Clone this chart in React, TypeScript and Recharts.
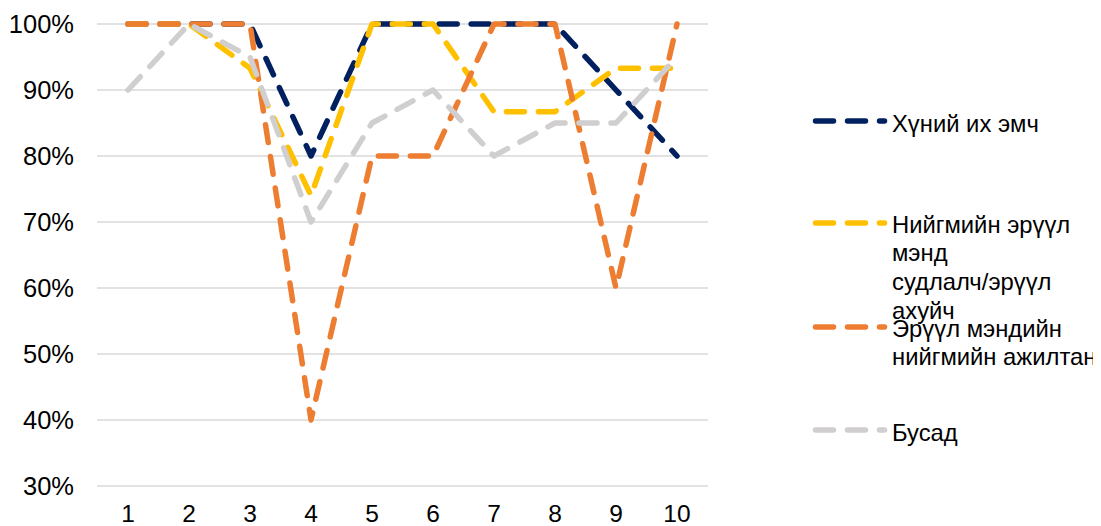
import { CartesianGrid, Line, LineChart, XAxis, YAxis } from "recharts";

const categories = ["1", "2", "3", "4", "5", "6", "7", "8", "9", "10"];

const doctor = [100, 100, 100, 80, 100, 100, 100, 100, 90, 80];
const publicHealth = [100, 100, 93.3, 74, 100, 100, 86.7, 86.7, 93.3, 93.3];
const socialWorker = [100, 100, 100, 40, 80, 80, 100, 100, 60, 100];
const other = [90, 100, 95, 70, 85, 90, 80, 85, 85, 95];

const yTicks = [30, 40, 50, 60, 70, 80, 90, 100];

const series = [
  { key: "doctor", name: "Хүний их эмч", values: doctor, color: "#002060", lines: ["Хүний их эмч"] },
  {
    key: "publicHealth",
    name: "Нийгмийн эрүүл мэнд судлалч/эрүүл ахуйч",
    values: publicHealth,
    color: "#FFC000",
    lines: ["Нийгмийн эрүүл", "мэнд", "судлалч/эрүүл", "ахуйч"],
  },
  {
    key: "socialWorker",
    name: "Эрүүл мэндийн нийгмийн ажилтан",
    values: socialWorker,
    color: "#ED7D31",
    lines: ["Эрүүл мэндийн", "нийгмийн ажилтан"],
  },
  { key: "other", name: "Бусад", values: other, color: "#D0CECE", lines: ["Бусад"] },
];

const data = categories.map((c, i) => {
  const row: Record<string, string | number> = { cat: c };
  series.forEach((s) => {
    row[s.key] = s.values[i];
  });
  return row;
});

const W = 1093;
const H = 518;
const FONT = "'Liberation Sans', Arial, sans-serif";
const DASH = "18 14";

// legend rows: marker centre and first text line centre (chart coords)
const legendRows = [
  { markerY: 113, textY: 115 },
  { markerY: 215, textY: 216 },
  { markerY: 319, textY: 320 },
  { markerY: 422, textY: 424 },
];
const LINE_H = 28.8;

function SideLegend() {
  return (
    <svg
      width={W}
      height={H}
      style={{ position: "absolute", left: 0, top: 0, pointerEvents: "none", overflow: "visible" }}
    >
      {series.map((s, i) => {
        const row = legendRows[i];
        return (
          <g key={s.key}>
            <line
              x1={807.5}
              x2={876.5}
              y1={row.markerY}
              y2={row.markerY}
              stroke={s.color}
              strokeWidth={5.5}
              strokeDasharray={DASH}
              strokeLinecap="round"
            />
            <text x={884} y={row.textY} fontFamily={FONT} fontSize={23.8} fill="#000">
              {s.lines.map((t, j) => (
                <tspan key={j} x={884} y={row.textY + j * LINE_H} dominantBaseline="central">
                  {t}
                </tspan>
              ))}
            </text>
          </g>
        );
      })}
    </svg>
  );
}

export default function App() {
  return (
    <div style={{ width: W, height: H, position: "relative", background: "#fff" }}>
      <LineChart width={W} height={H} data={data} margin={{ top: 16, right: 393, bottom: 10, left: 0 }}>
        <CartesianGrid vertical={false} stroke="#D9D9D9" strokeWidth={1.5} />
        <XAxis
          dataKey="cat"
          height={30}
          axisLine={false}
          tickLine={false}
          tickSize={0}
          tickMargin={19}
          padding={{ left: 31, right: 31 }}
          tick={{ fontSize: 24.5, fill: "#000", fontFamily: FONT }}
          interval={0}
        />
        <YAxis
          width={89}
          domain={[30, 100]}
          ticks={yTicks}
          axisLine={false}
          tickLine={false}
          tickSize={0}
          tickMargin={23}
          tickFormatter={(v) => `${v}%`}
          tick={{ fontSize: 25.5, fill: "#000", fontFamily: FONT }}
        />
        {series.map((s) => (
          <Line
            key={s.key}
            type="linear"
            dataKey={s.key}
            name={s.name}
            stroke={s.color}
            strokeWidth={5.5}
            strokeDasharray={DASH}
            strokeLinecap="round"
            strokeLinejoin="round"
            dot={false}
            activeDot={false}
            isAnimationActive={false}
          />
        ))}
      </LineChart>
      <SideLegend />
    </div>
  );
}
